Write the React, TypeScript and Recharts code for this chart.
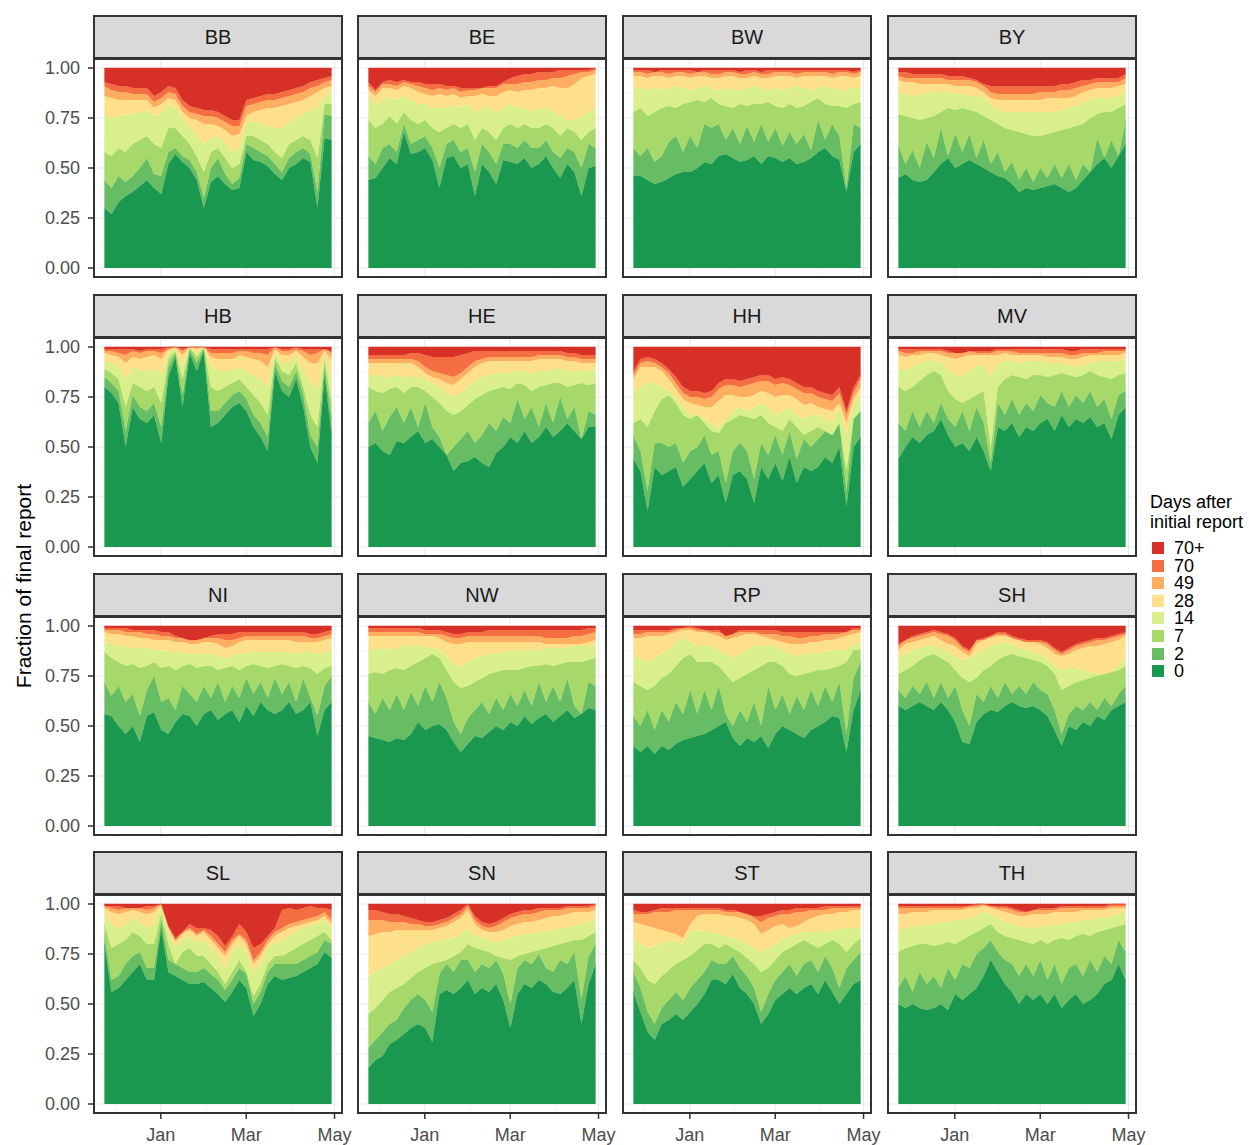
import React from 'react';
import { AreaChart, Area, XAxis, YAxis, CartesianGrid } from 'recharts';

// sample days, counted from 1 Jan 2021 (23 Nov 2020 .. 29 Apr 2021)
const DAYS = [
  -39, -34.1, -29.2, -24.3, -19.4, -14.5, -9.6, -4.7, 0.3, 5.2, 10.1, 15, 19.9, 24.8, 29.7, 34.6, 39.5,
  44.4, 49.3, 54.2, 59.1, 64, 68.9, 73.8, 78.8, 83.7, 88.6, 93.5, 98.4, 103.3, 108.2, 113.1, 118,
];

const LAYERS = ['0', '2', '7', '14', '28', '49', '70', '70+'];
const COLORS = ['#1A9850', '#66BD63', '#A6D96A', '#D9EF8B', '#FEE08B', '#FDAE61', '#F46D43', '#D73027'];

const STATES = ['BB', 'BE', 'BW', 'BY', 'HB', 'HE', 'HH', 'MV', 'NI', 'NW', 'RP', 'SH', 'SL', 'SN', 'ST', 'TH'];

const X_TICKS = [0, 59, 120];
const X_LABELS = ['Jan', 'Mar', 'May'];
const X_MINOR = [-31, 31, 90];
const Y_TICKS = [0, 0.25, 0.5, 0.75, 1];
const Y_MINOR = [0.125, 0.375, 0.625, 0.875];

// cumulative share of the final report (%) reached at the top of layers 0, 2, 7, 14, 28, 49, 70
const BB = [
  [30, 27, 33, 36, 38, 41, 44, 40, 37, 52, 57, 53, 50, 44, 30, 43, 46, 42, 39, 40, 58, 54, 53, 51, 47, 44, 50, 52, 55, 53, 30, 65, 64],
  [44, 40, 46, 43, 46, 50, 55, 47, 46, 58, 60, 56, 54, 48, 35, 50, 55, 47, 42, 45, 62, 60, 58, 56, 52, 48, 55, 58, 60, 57, 38, 77, 76],
  [58, 56, 60, 58, 62, 64, 66, 62, 60, 70, 70, 66, 62, 56, 48, 58, 60, 55, 50, 52, 66, 66, 64, 62, 58, 55, 62, 64, 66, 64, 55, 82, 82],
  [77, 75, 76, 76, 77, 78, 79, 76, 77, 82, 80, 75, 70, 66, 62, 65, 66, 63, 58, 60, 72, 73, 72, 71, 70, 70, 73, 75, 77, 79, 80, 86, 88],
  [86, 85, 84, 84, 84, 84, 84, 80, 82, 85, 84, 78, 75, 74, 72, 72, 71, 69, 66, 67, 76, 78, 79, 80, 80, 81, 82, 83, 84, 86, 88, 90, 91],
  [91, 89, 88, 88, 87, 87, 87, 83, 85, 88, 87, 81, 78, 77, 76, 76, 75, 73, 71, 71, 81, 82, 83, 84, 84, 85, 86, 87, 88, 90, 91, 93, 94],
  [93, 92, 91, 91, 90, 90, 90, 86, 88, 91, 90, 84, 81, 80, 79, 79, 78, 76, 74, 74, 84, 85, 86, 87, 87, 88, 89, 90, 91, 93, 94, 95, 96],
];

const BE = [
  [44, 45, 50, 55, 52, 68, 57, 58, 60, 54, 40, 55, 56, 50, 52, 36, 52, 48, 42, 54, 53, 52, 55, 50, 52, 56, 50, 45, 52, 48, 36, 50, 51],
  [56, 52, 60, 62, 58, 72, 62, 64, 66, 60, 50, 62, 64, 58, 60, 48, 62, 58, 52, 62, 62, 60, 64, 60, 60, 64, 58, 55, 60, 58, 50, 62, 60],
  [74, 70, 72, 76, 72, 78, 74, 72, 74, 70, 68, 70, 72, 70, 72, 64, 70, 68, 64, 70, 72, 70, 72, 70, 70, 72, 70, 66, 70, 68, 64, 68, 70],
  [86, 82, 84, 86, 84, 86, 84, 82, 82, 80, 80, 80, 82, 80, 82, 78, 80, 80, 78, 80, 82, 80, 80, 78, 80, 80, 78, 76, 74, 74, 76, 78, 80],
  [89, 86, 90, 90, 89, 91, 90, 88, 87, 86, 87, 86, 87, 85, 86, 86, 87, 86, 86, 88, 89, 88, 89, 89, 90, 90, 91, 90, 90, 92, 95, 96, 97],
  [91, 88, 92, 92, 91, 93, 92, 91, 90, 89, 90, 89, 90, 88, 89, 89, 90, 90, 90, 92, 92, 92, 93, 93, 94, 94, 95, 95, 96, 97, 98, 98, 99],
  [93, 89, 93, 94, 93, 94, 93, 93, 92, 92, 92, 91, 91, 90, 90, 90, 90, 91, 91, 93, 95, 96, 97, 97, 98, 98, 98, 99, 99, 99, 99, 99, 100],
];

const BW = [
  [46, 46, 44, 42, 43, 45, 47, 48, 48, 50, 53, 52, 56, 57, 55, 53, 54, 56, 52, 56, 55, 53, 55, 52, 53, 55, 58, 60, 56, 54, 38, 58, 62],
  [60, 56, 60, 53, 56, 63, 66, 58, 66, 60, 72, 70, 72, 64, 70, 62, 71, 63, 72, 63, 70, 61, 68, 62, 67, 59, 74, 64, 72, 66, 40, 72, 70],
  [78, 80, 76, 78, 80, 81, 80, 82, 83, 84, 83, 85, 82, 81, 80, 82, 81, 82, 82, 83, 81, 80, 82, 80, 81, 83, 85, 82, 81, 81, 80, 82, 83],
  [91, 90, 89, 90, 89, 90, 91, 90, 89, 90, 91, 90, 89, 90, 89, 89, 90, 91, 90, 89, 90, 89, 90, 91, 90, 89, 90, 91, 90, 89, 89, 90, 91],
  [96, 96, 95, 96, 96, 95, 96, 96, 95, 96, 96, 95, 95, 96, 96, 95, 95, 96, 95, 95, 96, 96, 96, 95, 96, 96, 96, 96, 95, 96, 96, 95, 96],
  [98, 98, 97, 98, 98, 97, 98, 98, 97, 98, 98, 97, 97, 98, 98, 97, 97, 98, 97, 97, 98, 98, 98, 97, 98, 98, 98, 98, 97, 98, 98, 97, 98],
  [99, 99, 99, 98, 99, 99, 99, 99, 99, 98, 99, 99, 99, 99, 99, 98, 99, 99, 98, 99, 99, 99, 99, 99, 99, 99, 99, 99, 99, 99, 99, 98, 99],
];

const BY = [
  [45, 47, 44, 43, 44, 48, 52, 55, 50, 52, 54, 52, 50, 48, 46, 45, 42, 38, 40, 39, 40, 41, 42, 40, 38, 40, 44, 48, 52, 55, 50, 56, 62],
  [61, 52, 59, 50, 63, 55, 70, 56, 67, 58, 67, 55, 64, 52, 58, 48, 53, 44, 50, 43, 50, 45, 52, 45, 52, 44, 52, 46, 65, 53, 64, 56, 74],
  [77, 76, 75, 74, 75, 76, 78, 80, 79, 80, 79, 78, 76, 74, 72, 70, 69, 68, 67, 66, 66, 67, 68, 69, 70, 71, 72, 75, 77, 78, 78, 80, 82],
  [87, 87, 86, 87, 87, 88, 88, 88, 87, 87, 86, 86, 85, 82, 79, 78, 78, 78, 78, 78, 78, 78, 78, 79, 80, 81, 83, 84, 85, 85, 85, 86, 88],
  [94, 93, 93, 92, 92, 92, 92, 92, 91, 91, 91, 90, 88, 85, 84, 84, 84, 84, 84, 84, 84, 85, 85, 85, 85, 86, 88, 89, 90, 90, 90, 91, 92],
  [96, 95, 95, 95, 95, 95, 95, 94, 94, 94, 94, 93, 91, 88, 87, 87, 87, 87, 87, 87, 88, 88, 88, 89, 89, 90, 91, 92, 93, 93, 93, 93, 95],
  [98, 98, 97, 97, 97, 97, 97, 96, 96, 96, 95, 94, 92, 91, 91, 91, 91, 91, 91, 91, 91, 91, 91, 92, 92, 93, 94, 94, 95, 95, 95, 95, 97],
];

const HB = [
  [80, 77, 72, 50, 70, 64, 62, 66, 52, 85, 95, 70, 97, 88, 98, 60, 62, 66, 70, 72, 68, 60, 55, 48, 88, 78, 75, 84, 70, 50, 42, 86, 56],
  [85, 82, 78, 58, 76, 70, 68, 72, 60, 90, 97, 76, 99, 92, 99, 68, 68, 72, 76, 78, 74, 66, 62, 55, 92, 83, 80, 88, 76, 56, 50, 90, 64],
  [89, 87, 84, 70, 82, 80, 78, 80, 72, 94, 98, 84, 100, 95, 100, 80, 78, 80, 82, 84, 80, 76, 72, 66, 95, 88, 86, 92, 80, 66, 60, 94, 72],
  [93, 92, 90, 84, 90, 88, 88, 89, 86, 97, 99, 90, 100, 97, 100, 90, 88, 88, 88, 90, 88, 86, 84, 80, 97, 92, 92, 95, 88, 82, 80, 96, 84],
  [97, 96, 95, 92, 95, 94, 95, 96, 94, 99, 100, 96, 100, 99, 100, 95, 94, 94, 94, 96, 95, 94, 93, 90, 99, 96, 96, 98, 95, 92, 92, 98, 94],
  [98, 98, 97, 96, 98, 97, 98, 98, 97, 99, 100, 98, 100, 100, 100, 97, 97, 97, 97, 98, 98, 97, 97, 96, 100, 98, 98, 99, 98, 96, 97, 99, 97],
  [99, 99, 99, 99, 99, 98, 99, 99, 99, 100, 100, 99, 100, 100, 100, 99, 99, 99, 99, 99, 99, 99, 99, 99, 100, 99, 99, 100, 99, 99, 99, 98, 98],
];

const HE = [
  [50, 52, 48, 46, 53, 52, 55, 58, 52, 54, 50, 46, 38, 42, 43, 45, 42, 40, 47, 50, 55, 52, 58, 52, 55, 60, 55, 58, 62, 58, 54, 60, 60],
  [62, 68, 58, 65, 70, 62, 70, 60, 72, 60, 55, 46, 50, 54, 58, 52, 56, 62, 58, 65, 62, 74, 64, 70, 60, 72, 62, 75, 64, 70, 50, 68, 66],
  [80, 78, 77, 79, 80, 77, 80, 80, 78, 75, 72, 68, 66, 68, 71, 74, 76, 78, 79, 80, 79, 82, 81, 78, 80, 81, 82, 82, 80, 81, 82, 81, 82],
  [86, 86, 85, 85, 86, 85, 85, 85, 84, 82, 80, 77, 75, 77, 80, 83, 85, 86, 87, 87, 87, 88, 88, 87, 88, 88, 89, 89, 88, 88, 88, 88, 89],
  [92, 92, 92, 92, 92, 92, 92, 90, 87, 85, 84, 82, 81, 84, 87, 90, 92, 93, 93, 93, 93, 93, 93, 93, 94, 94, 94, 94, 93, 93, 92, 92, 92],
  [94, 94, 94, 94, 94, 94, 94, 93, 90, 88, 87, 86, 85, 87, 90, 93, 94, 95, 95, 95, 95, 95, 95, 95, 96, 96, 96, 96, 95, 95, 94, 94, 94],
  [96, 96, 96, 96, 96, 96, 97, 97, 96, 95, 95, 95, 95, 96, 97, 98, 98, 98, 98, 98, 98, 98, 98, 98, 98, 98, 98, 98, 97, 97, 96, 96, 96],
];

const HH = [
  [44, 38, 18, 40, 36, 38, 40, 30, 34, 38, 42, 32, 36, 22, 36, 38, 34, 22, 40, 34, 42, 33, 45, 32, 40, 38, 40, 45, 42, 50, 20, 50, 55],
  [56, 48, 28, 52, 52, 50, 52, 42, 48, 50, 56, 46, 48, 32, 48, 52, 48, 34, 52, 46, 56, 46, 58, 44, 54, 50, 54, 58, 56, 62, 28, 64, 68],
  [62, 64, 60, 68, 74, 76, 72, 66, 64, 66, 62, 58, 57, 62, 64, 66, 65, 64, 66, 62, 60, 58, 64, 60, 56, 58, 60, 58, 54, 58, 38, 60, 64],
  [78, 80, 82, 82, 80, 78, 74, 70, 66, 65, 64, 62, 60, 64, 68, 70, 68, 70, 72, 70, 66, 68, 70, 66, 64, 66, 66, 64, 62, 70, 56, 72, 75],
  [84, 90, 90, 90, 88, 84, 79, 74, 72, 71, 70, 70, 73, 76, 76, 75, 75, 76, 78, 77, 75, 76, 76, 74, 71, 72, 70, 69, 68, 72, 62, 74, 80],
  [86, 92, 93, 92, 90, 87, 82, 77, 75, 75, 74, 75, 79, 81, 81, 80, 81, 82, 83, 83, 81, 82, 81, 79, 77, 77, 75, 74, 73, 77, 66, 77, 84],
  [88, 94, 95, 94, 92, 89, 85, 80, 78, 78, 77, 78, 82, 84, 84, 83, 84, 85, 86, 86, 84, 85, 84, 82, 80, 80, 78, 77, 76, 80, 68, 80, 86],
];

const MV = [
  [44, 50, 55, 52, 56, 58, 64, 56, 50, 52, 48, 55, 48, 38, 60, 58, 62, 55, 60, 58, 62, 64, 58, 66, 60, 64, 62, 65, 60, 62, 54, 66, 70],
  [62, 58, 68, 60, 68, 62, 72, 64, 60, 68, 58, 70, 62, 42, 72, 66, 74, 66, 72, 68, 76, 72, 70, 78, 70, 76, 72, 78, 70, 74, 64, 76, 78],
  [80, 78, 80, 83, 86, 88, 86, 78, 74, 72, 74, 76, 78, 50, 80, 84, 86, 85, 84, 86, 86, 85, 86, 87, 86, 85, 86, 88, 86, 85, 84, 86, 87],
  [90, 88, 90, 92, 93, 93, 92, 89, 86, 85, 88, 90, 91, 85, 92, 93, 93, 92, 93, 93, 93, 92, 92, 92, 91, 90, 91, 92, 93, 93, 93, 93, 94],
  [96, 95, 96, 96, 97, 97, 96, 95, 94, 95, 96, 96, 96, 96, 96, 97, 96, 96, 96, 96, 96, 95, 95, 95, 94, 94, 95, 96, 96, 96, 96, 96, 97],
  [98, 97, 97, 98, 98, 98, 98, 97, 97, 97, 98, 97, 97, 97, 98, 98, 98, 97, 97, 97, 97, 97, 97, 97, 96, 96, 97, 97, 97, 98, 98, 98, 98],
  [99, 99, 99, 99, 99, 99, 99, 98, 97, 97, 98, 98, 98, 98, 99, 99, 99, 99, 99, 99, 99, 99, 99, 99, 98, 98, 99, 99, 99, 99, 99, 99, 99],
];

const NI = [
  [56, 55, 50, 46, 50, 42, 55, 57, 48, 46, 52, 56, 55, 50, 56, 58, 53, 56, 58, 52, 60, 55, 62, 58, 56, 58, 62, 56, 58, 62, 45, 58, 62],
  [72, 65, 70, 62, 66, 55, 68, 75, 62, 64, 58, 70, 66, 62, 70, 64, 72, 62, 70, 64, 74, 66, 72, 64, 74, 66, 72, 62, 74, 64, 55, 70, 75],
  [87, 84, 82, 80, 81, 79, 80, 82, 79, 80, 78, 80, 81, 79, 80, 80, 78, 79, 80, 78, 80, 81, 80, 79, 80, 81, 80, 79, 80, 79, 76, 79, 80],
  [92, 91, 90, 90, 89, 89, 89, 88, 88, 87, 87, 87, 86, 86, 86, 86, 85, 84, 85, 86, 86, 87, 87, 87, 87, 87, 87, 86, 87, 87, 86, 87, 88],
  [97, 96, 96, 95, 95, 94, 94, 93, 93, 93, 92, 92, 91, 91, 92, 92, 91, 89, 90, 92, 93, 93, 93, 93, 93, 93, 93, 92, 92, 92, 92, 93, 94],
  [98, 98, 98, 97, 97, 97, 96, 96, 95, 95, 94, 94, 93, 93, 94, 94, 94, 93, 93, 94, 95, 95, 95, 95, 95, 95, 95, 95, 95, 94, 94, 95, 96],
  [99, 99, 99, 99, 98, 98, 98, 98, 97, 97, 95, 94, 93, 93, 94, 95, 96, 96, 96, 97, 97, 97, 97, 97, 97, 97, 97, 97, 97, 96, 96, 97, 98],
];

const NW = [
  [45, 44, 43, 42, 44, 43, 46, 52, 48, 50, 51, 48, 42, 37, 41, 45, 44, 47, 50, 48, 52, 50, 55, 51, 54, 56, 52, 55, 58, 54, 56, 59, 58],
  [62, 56, 64, 58, 66, 58, 67, 60, 70, 62, 72, 64, 52, 46, 54, 58, 62, 56, 64, 58, 66, 60, 68, 60, 72, 62, 70, 62, 74, 60, 54, 72, 70],
  [76, 77, 76, 78, 79, 78, 80, 82, 84, 86, 84, 78, 72, 69, 70, 72, 74, 76, 77, 78, 78, 78, 79, 80, 80, 81, 80, 81, 82, 82, 82, 83, 84],
  [88, 88, 89, 88, 89, 90, 90, 90, 90, 89, 88, 85, 81, 80, 82, 84, 85, 86, 86, 87, 87, 88, 88, 88, 88, 89, 89, 89, 89, 90, 90, 90, 90],
  [95, 95, 95, 95, 95, 95, 95, 95, 95, 95, 94, 92, 91, 91, 92, 92, 92, 92, 92, 92, 92, 92, 92, 92, 92, 91, 91, 91, 91, 91, 91, 92, 93],
  [97, 97, 97, 97, 97, 97, 97, 97, 96, 96, 96, 95, 94, 94, 95, 95, 95, 95, 95, 95, 95, 95, 95, 95, 95, 94, 94, 94, 94, 95, 95, 96, 97],
  [99, 99, 99, 99, 99, 99, 99, 99, 98, 98, 98, 97, 96, 96, 97, 97, 97, 98, 98, 98, 98, 98, 98, 98, 98, 98, 98, 98, 98, 98, 98, 99, 99],
];

const RP = [
  [40, 37, 40, 36, 40, 38, 41, 43, 44, 45, 46, 48, 50, 52, 44, 40, 44, 42, 45, 39, 46, 50, 48, 46, 44, 48, 50, 52, 55, 54, 37, 58, 68],
  [55, 50, 58, 48, 58, 52, 62, 56, 68, 56, 68, 58, 70, 56, 50, 58, 52, 62, 50, 70, 58, 66, 56, 65, 58, 68, 60, 70, 62, 72, 46, 74, 82],
  [72, 70, 68, 70, 74, 76, 80, 84, 86, 82, 82, 82, 80, 76, 72, 74, 76, 78, 80, 82, 82, 80, 76, 75, 76, 77, 78, 78, 79, 80, 82, 88, 88],
  [85, 84, 82, 84, 86, 88, 92, 94, 92, 90, 90, 90, 88, 86, 84, 86, 88, 90, 90, 90, 90, 88, 86, 85, 86, 86, 87, 87, 88, 88, 88, 91, 92],
  [94, 94, 95, 95, 95, 96, 97, 98, 98, 97, 97, 96, 95, 93, 94, 95, 96, 96, 95, 94, 93, 92, 91, 91, 91, 92, 92, 93, 93, 94, 95, 96, 97],
  [96, 96, 97, 97, 97, 97, 98, 99, 99, 98, 98, 97, 97, 95, 96, 97, 97, 97, 96, 96, 96, 95, 95, 94, 94, 95, 95, 96, 96, 96, 97, 98, 98],
  [98, 98, 98, 98, 98, 98, 99, 99, 100, 99, 98, 98, 98, 95, 96, 98, 98, 98, 98, 98, 98, 97, 97, 97, 97, 97, 97, 97, 97, 97, 97, 99, 99],
];

const SH = [
  [60, 58, 60, 62, 60, 58, 62, 58, 52, 42, 41, 52, 56, 58, 57, 60, 62, 60, 59, 60, 58, 55, 48, 40, 50, 48, 52, 50, 55, 53, 58, 60, 62],
  [68, 64, 70, 66, 72, 64, 72, 64, 70, 58, 50, 66, 62, 70, 64, 72, 66, 70, 66, 72, 68, 66, 58, 46, 56, 60, 58, 62, 58, 64, 60, 66, 70],
  [76, 78, 80, 83, 85, 86, 84, 82, 78, 74, 72, 74, 78, 80, 83, 85, 86, 85, 84, 83, 82, 80, 76, 68, 70, 72, 73, 74, 75, 76, 77, 78, 80],
  [84, 86, 88, 89, 90, 90, 89, 87, 85, 83, 84, 86, 88, 90, 91, 92, 91, 89, 88, 87, 86, 84, 80, 78, 79, 79, 78, 77, 76, 75, 76, 80, 85],
  [88, 91, 92, 93, 94, 95, 93, 91, 90, 87, 85, 91, 93, 94, 95, 95, 94, 93, 92, 92, 91, 89, 86, 85, 86, 88, 89, 90, 90, 91, 92, 93, 95],
  [90, 93, 94, 95, 96, 97, 96, 95, 93, 89, 87, 93, 93, 95, 96, 96, 94, 93, 92, 92, 92, 91, 88, 86, 88, 90, 91, 92, 93, 93, 94, 95, 96],
  [91, 93, 95, 96, 97, 98, 97, 96, 94, 90, 88, 91, 94, 95, 97, 97, 95, 94, 93, 93, 93, 92, 89, 87, 89, 91, 92, 93, 94, 94, 95, 96, 97],
];

const SL = [
  [80, 56, 58, 62, 66, 70, 62, 62, 88, 66, 64, 62, 60, 60, 61, 58, 55, 51, 56, 62, 58, 44, 50, 60, 64, 62, 63, 64, 66, 68, 70, 76, 73],
  [85, 62, 64, 70, 74, 76, 68, 68, 92, 72, 70, 68, 66, 66, 68, 65, 62, 57, 62, 68, 65, 50, 56, 66, 70, 70, 70, 70, 72, 74, 76, 82, 80],
  [90, 78, 80, 82, 86, 84, 80, 80, 95, 80, 70, 76, 78, 74, 74, 70, 66, 60, 66, 72, 66, 54, 60, 70, 74, 74, 76, 78, 80, 82, 84, 86, 82],
  [95, 90, 88, 90, 93, 91, 88, 90, 99, 86, 78, 82, 84, 81, 82, 78, 74, 68, 75, 80, 76, 66, 70, 78, 80, 82, 84, 86, 88, 89, 90, 92, 88],
  [98, 96, 95, 96, 97, 96, 95, 96, 100, 88, 81, 85, 87, 84, 86, 82, 78, 74, 80, 84, 80, 70, 74, 80, 84, 86, 88, 89, 90, 91, 92, 94, 90],
  [99, 98, 97, 98, 98, 98, 97, 98, 100, 89, 82, 86, 88, 85, 87, 84, 80, 76, 82, 85, 82, 72, 76, 82, 86, 88, 90, 91, 92, 93, 94, 96, 92],
  [99, 99, 99, 98, 98, 98, 99, 99, 100, 89, 83, 86, 90, 88, 88, 87, 84, 79, 84, 90, 86, 78, 80, 84, 88, 97, 98, 97, 98, 99, 98, 98, 97],
];

const SN = [
  [18, 22, 24, 30, 32, 35, 38, 40, 38, 31, 55, 57, 55, 58, 62, 55, 58, 56, 60, 52, 38, 55, 60, 58, 62, 60, 56, 55, 58, 62, 40, 60, 70],
  [28, 32, 36, 40, 42, 48, 52, 55, 52, 46, 65, 70, 66, 72, 72, 66, 70, 68, 72, 65, 50, 68, 72, 70, 75, 68, 66, 72, 70, 76, 52, 74, 80],
  [45, 48, 52, 56, 58, 60, 63, 66, 68, 70, 71, 72, 74, 76, 80, 78, 77, 76, 74, 73, 72, 74, 75, 76, 77, 78, 79, 80, 81, 82, 82, 84, 86],
  [64, 66, 68, 70, 72, 74, 76, 78, 80, 81, 82, 82, 83, 85, 88, 84, 83, 82, 81, 82, 83, 84, 85, 85, 86, 86, 87, 88, 88, 89, 90, 91, 93],
  [84, 85, 86, 86, 87, 87, 87, 87, 87, 87, 88, 89, 91, 93, 97, 90, 87, 86, 86, 87, 89, 90, 91, 91, 92, 93, 94, 94, 95, 96, 96, 96, 97],
  [92, 92, 92, 91, 91, 91, 90, 90, 89, 89, 90, 91, 93, 95, 99, 92, 89, 88, 89, 91, 93, 94, 95, 95, 96, 97, 97, 97, 98, 98, 98, 98, 99],
  [97, 97, 96, 95, 95, 94, 93, 92, 91, 91, 92, 93, 95, 97, 100, 94, 91, 90, 91, 93, 95, 96, 97, 97, 98, 98, 98, 98, 99, 99, 99, 99, 100],
];

const ST = [
  [56, 46, 36, 32, 40, 42, 45, 42, 46, 50, 55, 62, 62, 60, 65, 58, 55, 50, 40, 45, 52, 55, 58, 55, 58, 60, 55, 62, 56, 50, 55, 60, 62],
  [66, 58, 46, 40, 48, 52, 56, 52, 58, 62, 66, 72, 70, 70, 74, 68, 64, 58, 46, 55, 62, 66, 70, 64, 70, 72, 66, 74, 68, 58, 68, 72, 76],
  [72, 68, 62, 60, 64, 67, 70, 72, 74, 77, 80, 80, 78, 80, 78, 76, 73, 70, 66, 68, 72, 76, 78, 80, 82, 80, 78, 80, 82, 80, 76, 80, 83],
  [82, 80, 78, 79, 80, 82, 81, 80, 86, 87, 86, 86, 85, 84, 83, 82, 80, 78, 76, 78, 80, 82, 84, 85, 86, 86, 86, 86, 87, 87, 88, 88, 88],
  [91, 90, 89, 88, 87, 86, 85, 83, 90, 94, 95, 95, 95, 94, 94, 93, 92, 90, 85, 87, 89, 90, 88, 89, 91, 93, 94, 95, 95, 96, 96, 97, 97],
  [95, 95, 95, 96, 96, 96, 97, 97, 97, 97, 97, 97, 97, 96, 96, 96, 95, 93, 91, 93, 94, 95, 95, 96, 96, 97, 97, 97, 98, 98, 98, 98, 98],
  [97, 96, 96, 97, 98, 98, 98, 98, 98, 98, 98, 98, 98, 97, 97, 96, 95, 94, 94, 95, 96, 97, 97, 98, 98, 98, 98, 99, 99, 99, 99, 99, 99],
];

const TH = [
  [50, 48, 50, 48, 47, 48, 50, 47, 55, 52, 55, 58, 64, 72, 66, 60, 56, 50, 55, 52, 55, 50, 55, 48, 52, 55, 50, 52, 55, 60, 62, 70, 62],
  [58, 64, 56, 66, 60, 64, 58, 68, 62, 70, 68, 75, 78, 82, 76, 72, 70, 64, 70, 64, 72, 62, 70, 60, 68, 70, 64, 72, 66, 74, 70, 82, 76],
  [76, 78, 79, 80, 80, 79, 80, 81, 80, 82, 84, 86, 88, 90, 86, 84, 83, 82, 81, 80, 82, 80, 82, 83, 82, 84, 85, 84, 86, 87, 88, 89, 90],
  [87, 88, 89, 89, 90, 90, 91, 91, 92, 92, 93, 94, 96, 95, 93, 91, 90, 89, 88, 88, 89, 89, 90, 90, 91, 91, 92, 92, 93, 93, 94, 95, 96],
  [95, 95, 96, 96, 96, 97, 97, 97, 97, 97, 98, 98, 99, 98, 97, 96, 95, 94, 94, 95, 95, 95, 96, 96, 96, 96, 97, 97, 97, 97, 98, 98, 98],
  [98, 98, 98, 98, 98, 98, 98, 98, 98, 98, 99, 99, 100, 99, 98, 98, 97, 96, 96, 97, 97, 97, 97, 98, 98, 98, 98, 98, 98, 98, 99, 99, 99],
  [99, 99, 99, 99, 99, 99, 99, 99, 99, 99, 99, 100, 100, 99, 99, 99, 98, 97, 96, 97, 98, 98, 98, 99, 99, 99, 99, 99, 99, 99, 100, 100, 100],
];

const CUMULATIVE: Record<string, number[][]> = { BB, BE, BW, BY, HB, HE, HH, MV, NI, NW, RP, SH, SL, SN, ST, TH };

// layout (px)
const PLOT_LEFT = [93, 357, 622, 887];
const PLOT_TOP = [58, 337, 616, 894];
const PLOT_W = 250;
const PLOT_H = 220;
const STRIP_H = 43;
const Y_AXIS_W = 60;
const X_AXIS_H = 44;
const X_AXIS_PAD = 24; // room for the "May" label past the panel edge
const FONT = '"Liberation Sans", Arial, Helvetica, sans-serif';

// turn cumulative boundaries into stacked layer thicknesses
function buildRows(cum: number[][]) {
  return DAYS.map((x, i) => {
    const row: Record<string, number> = { x };
    let prev = 0;
    LAYERS.forEach((_, j) => {
      const top = j < cum.length ? Math.min(1, Math.max(prev, cum[j][i] / 100)) : 1;
      row['s' + j] = top - prev;
      prev = top;
    });
    return row;
  });
}

const Panel = ({ name, row, col }: { name: string; row: number; col: number }) => {
  const left = PLOT_LEFT[col];
  const top = PLOT_TOP[row];
  const yw = col === 0 ? Y_AXIS_W : 0;
  const bottomRow = row === 3;
  const xh = bottomRow ? X_AXIS_H : 0;
  const padR = bottomRow ? X_AXIS_PAD : 0;
  const data = buildRows(CUMULATIVE[name]);

  return (
    <>
      <div
        style={{
          position: 'absolute',
          left,
          top: top - STRIP_H,
          width: PLOT_W,
          height: STRIP_H + 1,
          background: '#D9D9D9',
          border: '2px solid #333333',
          boxSizing: 'border-box',
          display: 'flex',
          alignItems: 'center',
          justifyContent: 'center',
          fontSize: 20,
          color: '#1A1A1A',
        }}
      >
        {name}
      </div>
      <div style={{ position: 'absolute', left: left - yw, top }}>
        <AreaChart
          width={PLOT_W + yw + padR}
          height={PLOT_H + xh}
          data={data}
          margin={{ top: 0, right: padR, bottom: 0, left: 0 }}
        >
          <CartesianGrid horizontalValues={Y_MINOR} verticalValues={X_MINOR} stroke="#F2F2F2" strokeWidth={0.7} />
          <CartesianGrid horizontalValues={Y_TICKS} verticalValues={X_TICKS} stroke="#EBEBEB" strokeWidth={1.2} />
          <XAxis
            type="number"
            dataKey="x"
            domain={[-46.85, 125.85]}
            ticks={X_TICKS}
            tickFormatter={(v: number) => X_LABELS[X_TICKS.indexOf(v)]}
            hide={!bottomRow}
            height={X_AXIS_H}
            axisLine={false}
            tickSize={5}
            tickMargin={9}
            tickLine={{ stroke: '#333333', strokeWidth: 1.5 }}
            tick={{ fill: '#4D4D4D', fontSize: 18 }}
            interval={0}
          />
          <YAxis
            type="number"
            domain={[-0.05, 1.05]}
            ticks={Y_TICKS}
            tickFormatter={(v: number) => v.toFixed(2)}
            hide={col !== 0}
            width={Y_AXIS_W}
            axisLine={false}
            tickSize={5}
            tickMargin={8}
            tickLine={{ stroke: '#333333', strokeWidth: 1.5 }}
            tick={{ fill: '#4D4D4D', fontSize: 18 }}
            interval={0}
          />
          {LAYERS.map((layer, j) => (
            <Area
              key={layer}
              type="linear"
              dataKey={'s' + j}
              stackId="days"
              stroke={COLORS[j]}
              strokeWidth={0.5}
              fill={COLORS[j]}
              fillOpacity={1}
              isAnimationActive={false}
            />
          ))}
        </AreaChart>
      </div>
      <div
        style={{
          position: 'absolute',
          left,
          top,
          width: PLOT_W,
          height: PLOT_H,
          border: '2px solid #333333',
          boxSizing: 'border-box',
          pointerEvents: 'none',
        }}
      />
    </>
  );
};

const Legend = () => (
  <>
    <div style={{ position: 'absolute', left: 1150, top: 492, fontSize: 18, lineHeight: '20px', color: '#000', whiteSpace: 'nowrap' }}>
      Days after
      <br />
      initial report
    </div>
    {[...LAYERS].reverse().map((layer, i) => {
      const cy = 548 + i * 17.6;
      const color = COLORS[LAYERS.length - 1 - i];
      return (
        <React.Fragment key={layer}>
          <div style={{ position: 'absolute', left: 1152, top: cy - 6, width: 12, height: 12, background: color }} />
          <div style={{ position: 'absolute', left: 1174, top: cy - 10, height: 20, lineHeight: '20px', fontSize: 18, color: '#000' }}>
            {layer}
          </div>
        </React.Fragment>
      );
    })}
  </>
);

export default function App() {
  return (
    <div style={{ position: 'absolute', left: 0, top: 0, width: 1249, height: 1145, background: '#FFFFFF', fontFamily: FONT, overflow: 'hidden' }}>
      {STATES.map((name, i) => (
        <Panel key={name} name={name} row={Math.floor(i / 4)} col={i % 4} />
      ))}
      <div
        style={{
          position: 'absolute',
          left: 24,
          top: 586,
          transform: 'translate(-50%, -50%) rotate(-90deg)',
          whiteSpace: 'nowrap',
          fontSize: 21,
          color: '#000',
        }}
      >
        Fraction of final report
      </div>
      <Legend />
    </div>
  );
}
